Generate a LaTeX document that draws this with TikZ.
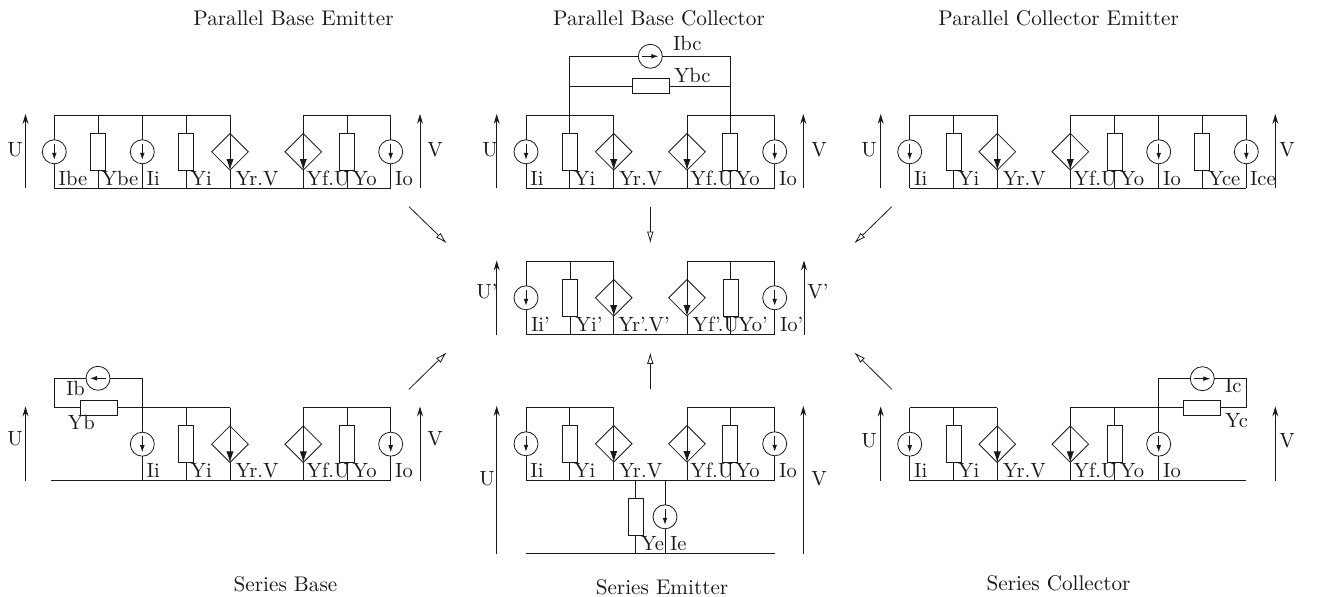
\documentclass[tikz,border=0pt]{standalone}
\usetikzlibrary{shapes.geometric,arrows.meta}
\definecolor{ink}{gray}{0.1}
\font\titlefont="[lmroman10-regular]:mapping=tex-text" at 10.6pt
\font\labelfont="[lmroman10-regular]:mapping=tex-text" at 10.3pt
\tikzset{
  x=0.5pt,y=-0.5pt,
  line width=0.5pt,
  resv/.style={draw=ink,rectangle,minimum width=7.5pt,minimum height=18.5pt,inner sep=0pt,outer sep=0pt},
  resh/.style={draw=ink,rectangle,minimum width=18.5pt,minimum height=7.5pt,inner sep=0pt,outer sep=0pt},
  srcnode/.style={draw=ink,circle,minimum size=12pt,inner sep=0pt,outer sep=0pt},
  depnode/.style={draw=ink,diamond,aspect=1,minimum width=18.3pt,minimum height=18.3pt,inner sep=0pt,outer sep=0pt},
  wire/.style={draw=ink},
  srctip/.style={draw=ink,-{Latex[length=3.5pt,width=2.4pt]}},
  deptip/.style={draw=ink,-{Latex[length=5.5pt,width=3.6pt]}},
  volt/.style={draw=ink,-{Stealth[length=5pt,width=3pt,inset=1.8pt]}},
  bigarrow/.style={draw=ink,-{Latex[open,length=5.8pt,width=3.3pt,fill=white]}},
  lbl/.style={anchor=base west,inner sep=0pt,outer sep=0pt,text=ink,font=\labelfont},
  title/.style={anchor=base,inner sep=0pt,text=ink,font=\titlefont},
}
% optional: label offset; name, x, top y, label
\newcommand{\Res}[5][4.4]{%
  \coordinate (#2-t) at (#3,#4);
  \coordinate (#2-b) at (#3,#4+73);
  \node[resv] (#2) at (#3,#4+36.5) {};
  \draw[wire] (#2-t) -- (#2.north) (#2.south) -- (#2-b);
  \node[lbl] (#2-l) at (#3+#1,#4+70) {#5};
}
\newcommand{\Src}[5][4.4]{%
  \coordinate (#2-t) at (#3,#4);
  \coordinate (#2-b) at (#3,#4+73);
  \node[srcnode] (#2) at (#3,#4+36.5) {};
  \draw[wire] (#2-t) -- (#2.north) (#2.south) -- (#2-b);
  \draw[srctip] ([yshift=4pt]#2.center) -- ([yshift=-4pt]#2.center);
  \node[lbl] (#2-l) at (#3+#1,#4+70) {#5};
}
\newcommand{\Dep}[5][4.4]{%
  \coordinate (#2-t) at (#3,#4);
  \coordinate (#2-b) at (#3,#4+73);
  \node[depnode] (#2) at (#3,#4+36.5) {};
  \draw[wire] (#2-t) -- (#2.north) (#2.south) -- (#2-b);
  \draw[deptip] (#2.north) -- (#2.south);
  \node[lbl] (#2-l) at (#3+#1,#4+70) {#5};
}
% name, x, y bottom, y top, label x, label y, label
\newcommand{\Volt}[7]{%
  \coordinate (#1-s) at (#2,#3);
  \coordinate (#1-e) at (#2,#4);
  \draw[volt] (#1-s) -- (#1-e);
  \node[lbl,anchor=center] (#1-l) at (#5,#6) {#7};
}
\begin{document}
\begin{tikzpicture}
\useasboundingbox (0,0) rectangle (1318,597);
% titles
\node[title] (t1) at (293.5,25.5) {Parallel Base Emitter};
\node[title] (t2) at (659,25.5) {Parallel Base Collector};
\node[title] (t3) at (1058.7,25.5) {Parallel Collector Emitter};
\node[title] (t4) at (285.5,591.5) {Series Base};
\node[title] (t5) at (662,594.5) {Series Emitter};
\node[title] (t6) at (1058.5,590.7) {Series Collector};

% Panel A: parallel base emitter
\Src{a1}{54.3}{115.3}{Ibe}
\Res[3.4]{a2}{98.3}{115.3}{Ybe}
\Src{a3}{142.3}{115.3}{Ii}
\Res{a4}{186.3}{115.3}{Yi}
\Dep[5.5]{a5}{230}{115.3}{Yr.V}
\Dep[3.4]{a6}{303.3}{115.3}{Yf.U}
\Res[5.4]{a7}{347.3}{115.3}{Yo}
\Src{a8}{390.7}{115.3}{Io}
\draw[wire] (a1-t) -- (a5-t) (a6-t) -- (a8-t) (a1-b) -- (a8-b);
\Volt{aU}{25.5}{188.3}{114}{15}{150}{U}
\Volt{aV}{420}{188.3}{114}{435}{150}{V}

% Panel B: parallel base collector
\Src{b1}{526}{115.3}{Ii}
\Res{b2}{569.7}{115.3}{Yi}
\Dep[5.5]{b3}{613.7}{115.3}{Yr.V}
\Dep[3.4]{b4}{687}{115.3}{Yf.U}
\Res[5.4]{b5}{730.3}{115.3}{Yo}
\Src{b6}{774.7}{115.3}{Io}
\draw[wire] (b1-t) -- (b3-t) (b4-t) -- (b6-t) (b1-b) -- (b6-b);
\node[srcnode] (b7) at (650.3,56.3) {};
\draw[srctip] ([xshift=-4pt]b7.center) -- ([xshift=4pt]b7.center);
\node[resh] (b8) at (650.6,86) {};
\coordinate (bLu) at (569.7,56.3);
\coordinate (bRu) at (730.3,56.3);
\coordinate (bLm) at (569.7,86);
\coordinate (bRm) at (730.3,86);
\draw[wire] (b2-t) -- (bLu) -- (b7.west) (b7.east) -- (bRu) -- (b5-t);
\draw[wire] (bLm) -- (b8.west) (b8.east) -- (bRm);
\node[lbl] (b7-l) at (673,51) {Ibc};
\node[lbl] (b8-l) at (674,83) {Ybc};
\Volt{bU}{496.7}{188.3}{114}{490}{150}{U}
\Volt{bV}{803.3}{188.3}{114}{819}{150}{V}

% Panel C: parallel collector emitter
\Src{c1}{909.7}{115.3}{Ii}
\Res{c2}{953.7}{115.3}{Yi}
\Dep[5.5]{c3}{997.3}{115.3}{Yr.V}
\Dep[3.4]{c4}{1070.3}{115.3}{Yf.U}
\Res[5.4]{c5}{1114.7}{115.3}{Yo}
\Src{c6}{1158.7}{115.3}{Io}
\Res[6]{c7}{1202.3}{115.3}{Yce}
\Src[3.7]{c8}{1246.3}{115.3}{Ice}
\draw[wire] (c1-t) -- (c3-t) (c4-t) -- (c8-t) (c1-b) -- (c8-b);
\Volt{cU}{880.7}{188.3}{114}{869}{150}{U}
\Volt{cV}{1275.3}{188.3}{114}{1287}{150}{V}

% Centre panel
\Src[5]{m1}{526}{261.3}{Ii'}
\Res[5.7]{m2}{570}{261.3}{Yi'}
\Dep[4.6]{m3}{613.7}{261.3}{Yr'.V'}
\Dep[5.7]{m4}{687}{261.3}{Yf'.U}
\Res[7.3]{m5}{730.7}{261.3}{Yo'}
\Src[5.3]{m6}{774.7}{261.3}{Io'}
\draw[wire] (m1-t) -- (m3-t) (m4-t) -- (m6-t) (m1-b) -- (m6-b);
\Volt{mU}{496.7}{334.7}{260.5}{487}{292}{U'}
\Volt{mV}{804}{334.7}{260.5}{818}{292}{V'}

% Panel D: series base
\Src{d1}{142.3}{407.7}{Ii}
\Res{d2}{186.3}{407.7}{Yi}
\Dep[5.5]{d3}{230}{407.7}{Yr.V}
\Dep[3.4]{d4}{303.3}{407.7}{Yf.U}
\Res[5.4]{d5}{347.3}{407.7}{Yo}
\Src{d6}{390.7}{407.7}{Io}
\node[srcnode] (d7) at (98,378.3) {};
\draw[srctip] ([xshift=4pt]d7.center) -- ([xshift=-4pt]d7.center);
\node[resh] (d8) at (98.6,407.7) {};
\coordinate (dLo) at (54.3,407.7);
\coordinate (dLu) at (54.3,378.3);
\coordinate (dRu) at (142.3,378.3);
\coordinate (dG) at (50.7,480.7);
\draw[wire] (d8.west) -- (dLo) -- (dLu) -- (d7.west) (d7.east) -- (dRu) -- (d1-t);
\draw[wire] (d8.east) -- (d3-t) (d4-t) -- (d6-t) (dG) -- (d6-b);
\node[lbl] (d7-l) at (66,396) {Ib};
\node[lbl] (d8-l) at (68,430) {Yb};
\Volt{dU}{25.5}{480.7}{406.5}{15}{439}{U}
\Volt{dV}{420}{480.7}{406.5}{435}{439}{V}

% Panel E: series emitter
\Src{e1}{526}{407.3}{Ii}
\Res{e2}{569.7}{407.3}{Yi}
\Dep[5.5]{e3}{613.7}{407.3}{Yr.V}
\Dep[3.4]{e4}{687}{407.3}{Yf.U}
\Res[5.4]{e5}{730.3}{407.3}{Yo}
\Src{e6}{774.7}{407.3}{Io}
\draw[wire] (e1-t) -- (e3-t) (e4-t) -- (e6-t) (e1-b) -- (e6-b);
\Res[5.3]{e7}{635.7}{480.3}{Ye}
\Src[5]{e8}{665}{480.3}{Ie}
\coordinate (eGl) at (526,553.7);
\coordinate (eGr) at (774.7,553.7);
\draw[wire] (eGl) -- (eGr);
\Volt{eU}{496.7}{553.7}{406}{487}{479}{U}
\Volt{eV}{803.3}{553.7}{406}{819}{479}{V}

% Panel F: series collector
\Src{f1}{909.7}{407.7}{Ii}
\Res{f2}{953.7}{407.7}{Yi}
\Dep[5.5]{f3}{997.3}{407.7}{Yr.V}
\Dep[3.4]{f4}{1070.3}{407.7}{Yf.U}
\Res[5.4]{f5}{1114.7}{407.7}{Yo}
\Src{f6}{1158.7}{407.7}{Io}
\node[srcnode] (f7) at (1202.3,378.7) {};
\draw[srctip] ([xshift=-4pt]f7.center) -- ([xshift=4pt]f7.center);
\node[resh] (f8) at (1202.3,407.7) {};
\coordinate (fRo) at (1246.3,407.7);
\coordinate (fRu) at (1246.3,378.7);
\coordinate (fLu) at (1158.7,378.7);
\coordinate (fG) at (1246.3,480.7);
\draw[wire] (f8.east) -- (fRo) -- (fRu) -- (f7.east) (f7.west) -- (fLu) -- (f6-t);
\draw[wire] (f1-t) -- (f3-t) (f4-t) -- (f8.west) (f1-b) -- (fG);
\node[lbl] (f7-l) at (1225,393) {Ic};
\node[lbl] (f8-l) at (1225,428) {Yc};
\Volt{fU}{880.7}{480.7}{406.5}{869}{441}{U}
\Volt{fV}{1275.3}{480.7}{406.5}{1287}{441}{V}

% conversion arrows towards the centre panel
\coordinate (q1s) at (409,206.7);   \coordinate (q1e) at (446.7,243.3);
\coordinate (q2s) at (650.3,206.7); \coordinate (q2e) at (650.3,243.3);
\coordinate (q3s) at (891.7,206.7); \coordinate (q3e) at (854.3,243.3);
\coordinate (q4s) at (409,389.3);   \coordinate (q4e) at (446.7,352.3);
\coordinate (q5s) at (650.3,389.3); \coordinate (q5e) at (650.3,352.3);
\coordinate (q6s) at (891.7,389.3); \coordinate (q6e) at (854.3,352.3);
\draw[bigarrow] (q1s) -- (q1e);
\draw[bigarrow] (q2s) -- (q2e);
\draw[bigarrow] (q3s) -- (q3e);
\draw[bigarrow] (q4s) -- (q4e);
\draw[bigarrow] (q5s) -- (q5e);
\draw[bigarrow] (q6s) -- (q6e);
\end{tikzpicture}
\end{document}
